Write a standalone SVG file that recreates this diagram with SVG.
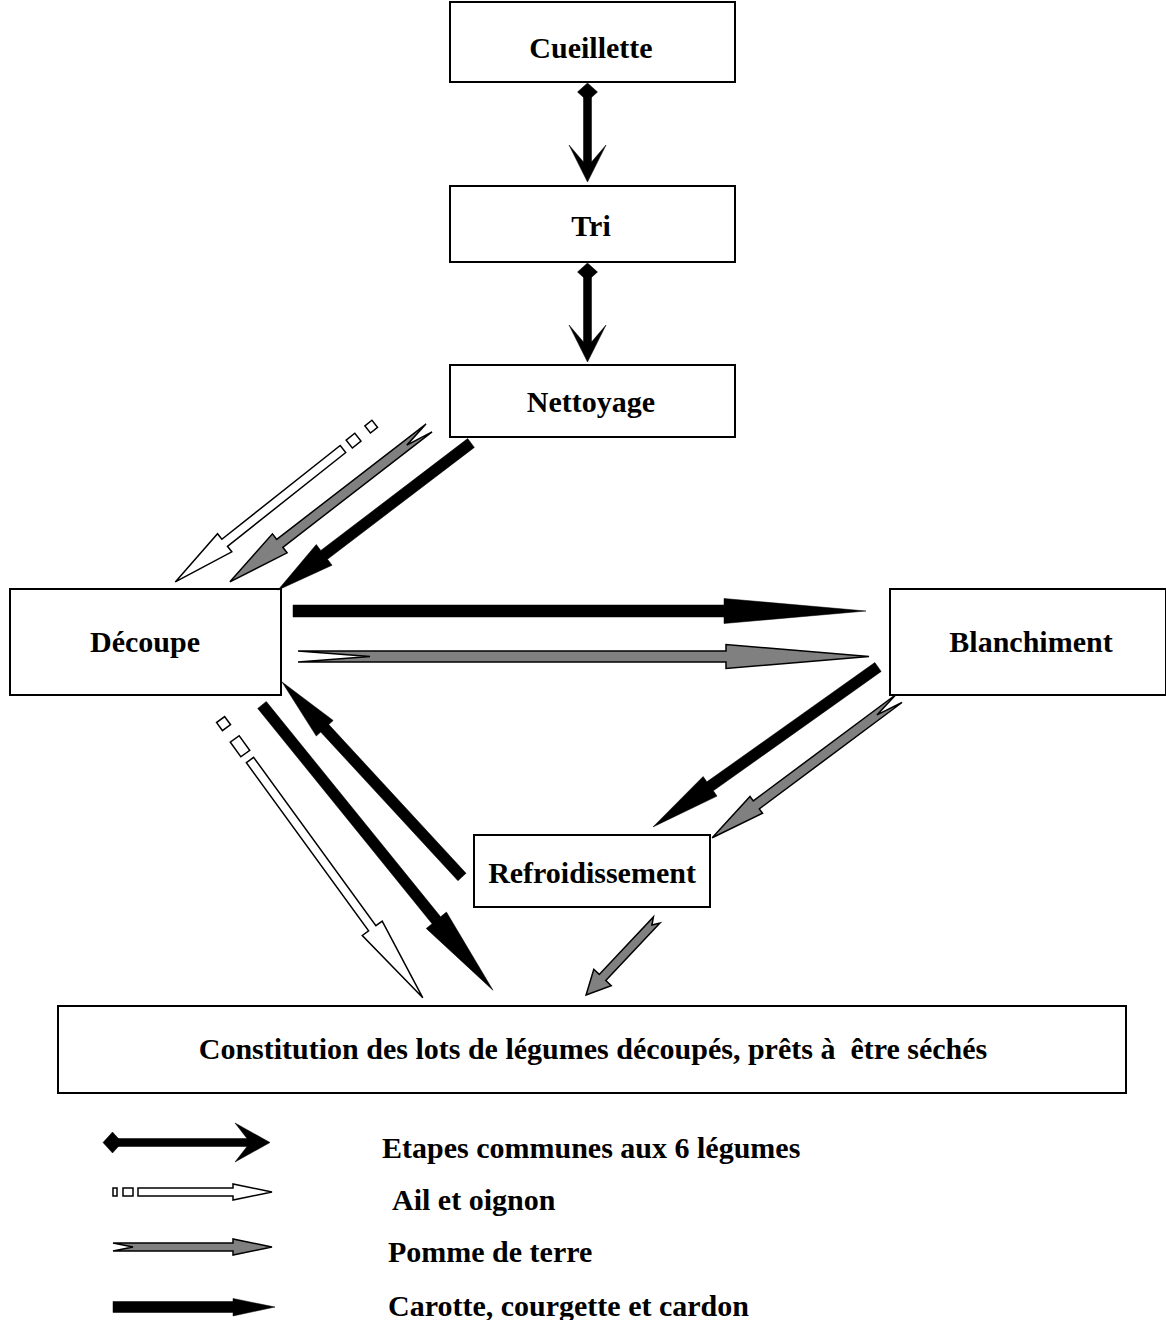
<svg xmlns="http://www.w3.org/2000/svg" width="1166" height="1320" viewBox="0 0 1166 1320">
<style>
.box{fill:#fff;stroke:#000;stroke-width:2}
.t{font-family:"Liberation Serif","Times New Roman",serif;font-weight:bold;font-size:30px;fill:#000}
.c{text-anchor:middle}
.blk{fill:#000;stroke:#000;stroke-width:0.5}
.gry{fill:#808080;stroke:#000;stroke-width:1.5;stroke-linejoin:miter}
.wht{fill:#fff;stroke:#000;stroke-width:1.5}
</style>
<rect width="1166" height="1320" fill="#fff"/>
<g id="cueillette"><rect class="box" x="450" y="2" width="285" height="80"/><text class="t c" x="591" y="58">Cueillette</text></g>
<g id="tri"><rect class="box" x="450" y="186" width="285" height="76"/><text class="t c" x="591" y="236">Tri</text></g>
<g id="nettoyage"><rect class="box" x="450" y="365" width="285" height="72"/><text class="t c" x="591" y="412">Nettoyage</text></g>
<g id="decoupe"><rect class="box" x="10" y="589" width="271" height="106"/><text class="t c" x="145" y="652">Découpe</text></g>
<g id="blanchiment"><rect class="box" x="890" y="589" width="276" height="106"/><text class="t c" x="1031" y="652">Blanchiment</text></g>
<g id="refroidissement"><rect class="box" x="474" y="835" width="236" height="72"/><text class="t c" x="592" y="883">Refroidissement</text></g>
<g id="constitution"><rect class="box" x="58" y="1006" width="1068" height="87"/><text class="t c" x="593" y="1059" xml:space="preserve">Constitution des lots de légumes découpés, prêts à  être séchés</text></g>
<g id="connectors">
<path class="blk" d="M577.5,92 L587.5,83 L597.5,92 L587.5,101 Z M583.5,95 L591.5,95 L591.5,162 L606,145 L587.5,182 L569,145 L583.5,162 Z"/>
<path class="blk" d="M577.5,272 L587.5,263 L597.5,272 L587.5,281 Z M583.5,275 L591.5,275 L591.5,342 L606,325 L587.5,362 L569,325 L583.5,342 Z"/>
<g transform="translate(343,449) rotate(141.6)">
<polygon class="wht" points="0,-4.5 151,-4.5 151,-11.5 214,0 151,11.5 151,4.5 0,4.5"/>
<rect class="wht" x="-19" y="-5" width="11" height="10"/>
<rect class="wht" x="-40.5" y="-4.5" width="9" height="9"/>
</g>
<polygon class="gry" transform="translate(429,428) rotate(142.3)" points="0,-5 188.6,-5 188.6,-12 251.6,0 188.6,12 188.6,5 0,5 28,0"/>
<polygon class="blk" transform="translate(471,443) rotate(142.7)" points="0,-5.5 184.6,-5.5 184.6,-13 242.6,0 184.6,13 184.6,5.5 0,5.5"/>
<polygon class="blk" points="293,605 724,605 724,598.5 866,611 724,623.5 724,617 293,617"/>
<polygon class="gry" points="298,651 726,651 726,644.5 869,656.5 726,668.5 726,662 298,662 370,656.5"/>
<polygon class="blk" transform="translate(878,667) rotate(144.6)" points="0,-5.5 206,-5.5 206,-12 276,0 206,12 206,5.5 0,5.5"/>
<polygon class="gry" transform="translate(899,698.5) rotate(143.3)" points="0,-5 178,-5 178,-10.5 233,0 178,10.5 178,5 0,5 27.5,0"/>
<polygon class="blk" transform="translate(462,877) rotate(-132.7)" points="0,-5.5 202.4,-5.5 202.4,-11.5 265.4,0 202.4,11.5 202.4,5.5 0,5.5"/>
<polygon class="blk" transform="translate(262,705) rotate(51)" points="0,-5.5 277,-5.5 277,-13 367,0 277,13 277,5.5 0,5.5"/>
<g transform="translate(250,760) rotate(54)">
<polygon class="wht" points="0,-4.5 208,-4.5 208,-12.3 294,0 208,12.3 208,4.5 0,4.5"/>
<rect class="wht" x="-26" y="-5.5" width="18" height="11"/>
<rect class="wht" x="-50" y="-5" width="10" height="10"/>
</g>
<polygon class="gry" transform="translate(656.7,920) rotate(133.3)" points="0,-4.5 79,-4.5 79,-12 103,0 79,12 79,4.5 0,4.5 7,0"/>
</g>
<g id="legend">
<path class="blk" d="M103,1142.5 L112.5,1132 L122,1142.5 L112.5,1153 Z M115,1138.5 L247,1138.5 L235,1123 L270,1142.5 L235,1162 L247,1146.5 L115,1146.5 Z"/>
<rect class="wht" x="113" y="1188" width="4" height="8"/>
<rect class="wht" x="123" y="1188" width="10" height="8"/>
<polygon class="wht" points="138,1188 233,1188 233,1184 272,1192 233,1200 233,1196 138,1196"/>
<polygon class="gry" points="113,1243 233,1243 233,1239 272,1247 233,1255 233,1251 113,1251 133,1247"/>
<polygon class="blk" points="113,1301.5 233,1301.5 233,1298.5 275,1307 233,1316 233,1312.5 113,1312.5"/>
<text class="t" x="382" y="1158">Etapes communes aux 6 légumes</text>
<text class="t" x="392" y="1210">Ail et oignon</text>
<text class="t" x="388" y="1262">Pomme de terre</text>
<text class="t" x="388" y="1316">Carotte, courgette et cardon</text>
</g>
</svg>
